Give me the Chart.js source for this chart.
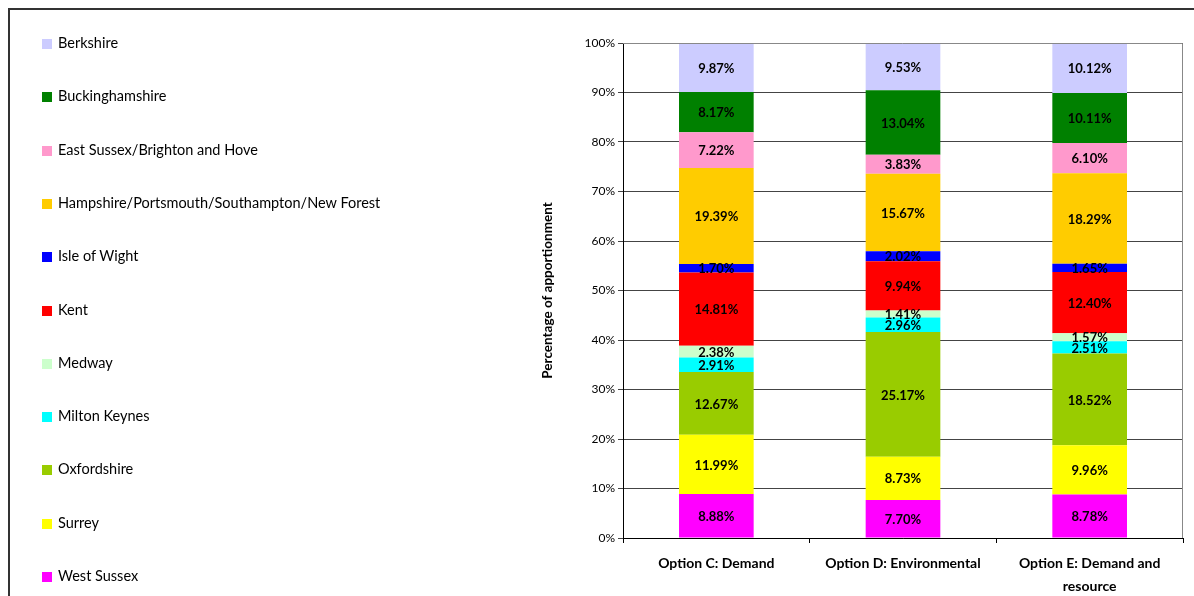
<!DOCTYPE html>
<html>
<head>
<meta charset="utf-8">
<script src="https://cdn.jsdelivr.net/npm/chart.js@4/dist/chart.umd.min.js"></script>
<style>
  body { margin: 0; background: #fff; font-family: Lato, "Open Sans", sans-serif; }
  #wrap { position: relative; width: 1194px; height: 596px; overflow: hidden; }
  #chart { position: absolute; left: 0; top: 0; }
  .item { position: absolute; left: 42px; font-size: 14.5px; color: #000; line-height: 16px; white-space: nowrap; }
  .item span { display: inline-block; width: 10px; height: 10px; margin-right: 6px; vertical-align: -1px; }
</style>
</head>
<body>
<div id="wrap">
  <canvas id="chart" width="1194" height="596"></canvas>
  <div id="legend"></div>
</div>
<script>
// Categories (x axis), one label may break over two lines
const options = ["Option C: Demand", "Option D: Environmental", ["Option E: Demand and", "resource"]];

// Regions from bottom of the stack to the top
const regions = ["West Sussex", "Surrey", "Oxfordshire", "Milton Keynes", "Medway", "Kent",
  "Isle of Wight", "Hampshire/Portsmouth/Southampton/New Forest", "East Sussex/Brighton and Hove",
  "Buckinghamshire", "Berkshire"];
const colours = ["#FF00FF", "#FFFF00", "#99CC00", "#00FFFF", "#CCFFCC", "#FF0000",
  "#0000FF", "#FFCC00", "#FF99CC", "#008000", "#CCCCFF"];

// percentage share per region, in option order C, D, E
const westSussex = [8.88, 7.70, 8.78];
const surrey = [11.99, 8.73, 9.96];
const oxfordshire = [12.67, 25.17, 18.52];
const miltonKeynes = [2.91, 2.96, 2.51];
const medway = [2.38, 1.41, 1.57];
const kent = [14.81, 9.94, 12.40];
const isleOfWight = [1.70, 2.02, 1.65];
const hampshire = [19.39, 15.67, 18.29];
const eastSussex = [7.22, 3.83, 6.10];
const buckinghamshire = [8.17, 13.04, 10.11];
const berkshire = [9.87, 9.53, 10.12];

const values = [westSussex, surrey, oxfordshire, miltonKeynes, medway, kent,
  isleOfWight, hampshire, eastSussex, buckinghamshire, berkshire];

const yTicks = [0, 10, 20, 30, 40, 50, 60, 70, 80, 90, 100];

// legend on the left, top item is the last dataset
const legend = document.getElementById("legend");
for (let i = regions.length - 1; i >= 0; i--) {
  const k = regions.length - 1 - i;
  const div = document.createElement("div");
  div.className = "item";
  div.style.top = (43 + k * 53.3 - 8) + "px";
  div.innerHTML = '<span style="background:' + colours[i] + '"></span>';
  div.appendChild(document.createTextNode(regions[i]));
  legend.appendChild(div);
}

// draws the frame round the page and the plot area
const frame = {
  id: "frame",
  beforeDraw(chart) {
    const ctx = chart.ctx;
    ctx.save();
    ctx.strokeStyle = "#333";
    ctx.lineWidth = 2;
    ctx.strokeRect(9, 9, 1400, 800);
    ctx.restore();
  },
  afterDraw(chart) {
    const a = chart.chartArea;
    const ctx = chart.ctx;
    ctx.save();
    ctx.strokeStyle = "#888";
    ctx.lineWidth = 1;
    ctx.beginPath();
    ctx.moveTo(a.left, a.top + 0.5);
    ctx.lineTo(a.right - 0.5, a.top + 0.5);
    ctx.lineTo(a.right - 0.5, a.bottom);
    ctx.stroke();
    ctx.restore();
  }
};

// percentage text in the middle of every segment
const segLabels = {
  id: "segLabels",
  afterDatasetsDraw(chart) {
    const ctx = chart.ctx;
    ctx.save();
    ctx.font = "bold 13px Lato, sans-serif";
    ctx.fillStyle = "#000";
    ctx.textAlign = "center";
    ctx.textBaseline = "middle";
    chart.data.datasets.forEach((ds, i) => {
      chart.getDatasetMeta(i).data.forEach((bar, j) => {
        ctx.fillText(ds.data[j].toFixed(2) + "%", bar.x, (bar.y + bar.base) / 2 + 1);
      });
    });
    ctx.restore();
  }
};

new Chart(document.getElementById("chart"), {
  type: "bar",
  data: {
    labels: options,
    datasets: regions.map((name, i) => ({
      label: name,
      data: values[i],
      backgroundColor: colours[i],
      borderWidth: 0,
      barPercentage: 0.4,
      categoryPercentage: 1
    }))
  },
  plugins: [frame, segLabels],
  options: {
    responsive: false,
    animation: false,
    layout: { padding: { left: 534, top: 43, right: 11, bottom: 0 } },
    plugins: { legend: { display: false }, tooltip: { enabled: false } },
    scales: {
      x: {
        stacked: true,
        grid: { drawOnChartArea: false, tickLength: 5, color: "#000" },
        border: { color: "#000" },
        ticks: { color: "#000", font: { family: "Lato", size: 14, weight: "bold", lineHeight: "23px" }, padding: 9, maxRotation: 0 },
        afterFit(scale) { scale.height = 58; }
      },
      y: {
        stacked: true,
        min: 0,
        max: 100,
        afterBuildTicks(scale) { scale.ticks = yTicks.map(v => ({ value: v })); },
        afterFit(scale) { scale.width = 89; },
        grid: { color: "#444", tickLength: 5 },
        border: { color: "#000" },
        ticks: { color: "#000", font: { family: "Lato", size: 12 }, padding: 3, callback: v => v + "%" },
        title: { display: true, text: "Percentage of apportionment", color: "#000", font: { family: "Lato", size: 13.5, weight: "bold" }, padding: { top: 6, bottom: 0 } }
      }
    }
  }
});
</script>
</body>
</html>
